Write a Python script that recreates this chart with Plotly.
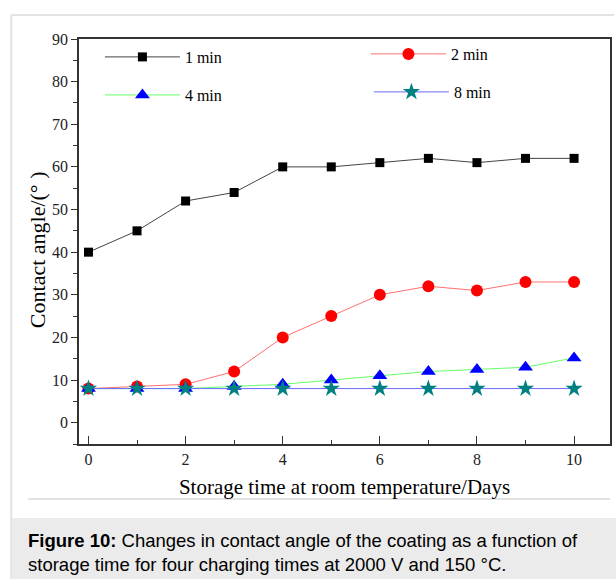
import plotly.graph_objects as go

days = [0, 1, 2, 3, 4, 5, 6, 7, 8, 9, 10]
angle_1min = [40, 45, 52, 54, 60, 60, 61, 62, 61, 62, 62]
angle_2min = [8, 8.5, 9, 12, 20, 25, 30, 32, 31, 33, 33]
angle_4min = [8, 8, 8, 8.5, 9, 10, 11, 12, 12.5, 13, 15.2]
angle_8min = [8, 8, 8, 8, 8, 8, 8, 8, 8, 8, 8]
series_names = ["1 min", "2 min", "4 min", "8 min"]
x_title = "Storage time at room temperature/Days"
y_title = "Contact angle/(° )"
caption_bold = "Figure 10:"
caption_rest = (" Changes in contact angle of the coating as a function of"
                "<br>storage time for four charging times at 2000 V and 150 °C.")

SERIF = "Liberation Serif, Times New Roman, serif"
SANS = "Liberation Sans, Arial, sans-serif"

styles = [
    dict(line=dict(color="#444444", width=1), marker=dict(symbol="square", size=9, color="#000000")),
    dict(line=dict(color="#ff7070", width=1), marker=dict(symbol="circle", size=12, color="#ff0000")),
    dict(line=dict(color="#66ff66", width=1), marker=dict(symbol="triangle-up", size=13, color="#0000ff")),
    dict(line=dict(color="#6a6aff", width=1), marker=dict(symbol="star", size=13, color="#008080")),
]
legend_ids = ["legend", "legend2", "legend3", "legend4"]

fig = go.Figure()
for name, vals, st, lg in zip(series_names, [angle_1min, angle_2min, angle_4min, angle_8min], styles, legend_ids):
    fig.add_trace(go.Scatter(x=days, y=vals, mode="lines+markers", name=name,
                             line=st["line"], marker=dict(line=dict(width=0), **st["marker"]),
                             legend=lg))

W, H = 616, 579
L, R, T, B = 79, 4, 39, 135
pw = W - L - R
ph = H - T - B

def px(x):
    return (x - L) / pw

def py(y):
    return (H - B - y) / ph

leg_common = dict(bgcolor="rgba(0,0,0,0)", font=dict(family=SERIF, size=16, color="#000"),
                  itemwidth=75, xanchor="left", yanchor="middle", borderwidth=0)
legend_pos = [(100, 57), (367, 54), (100, 95), (370, 92)]
layout_legends = {}
for lg, (lx, ly) in zip(legend_ids, legend_pos):
    layout_legends[lg] = dict(x=px(lx), y=py(ly), **leg_common)

frame_col = "#e3e3e3"
shapes = [
    dict(type="line", xref="paper", yref="paper", x0=px(11), x1=px(616), y0=py(15), y1=py(15),
         line=dict(color=frame_col, width=2)),
    dict(type="line", xref="paper", yref="paper", x0=px(11), x1=px(11), y0=py(15), y1=py(579),
         line=dict(color=frame_col, width=2)),
    dict(type="line", xref="paper", yref="paper", x0=px(28), x1=px(612), y0=py(499), y1=py(499),
         line=dict(color="#c8c8c8", width=1)),
    dict(type="rect", xref="paper", yref="paper", x0=px(12), x1=px(620), y0=py(518), y1=py(582),
         fillcolor="#ebebeb", line=dict(width=0), layer="below"),
]

fig.update_layout(
    width=W, height=H,
    margin=dict(l=L, r=R, t=T, b=B),
    paper_bgcolor="white", plot_bgcolor="white",
    showlegend=True,
    shapes=shapes,
    annotations=[
        dict(xref="paper", yref="paper", x=px(26), y=py(552), xanchor="left", yanchor="middle",
             align="left", showarrow=False,
             text="<b>" + caption_bold + "</b>" + caption_rest,
             font=dict(family=SANS, size=18.5, color="#000")),
        dict(xref="paper", yref="paper", x=px(37), y=py(250), xanchor="center", yanchor="middle",
             textangle=-90, showarrow=False, text=y_title,
             font=dict(family=SERIF, size=22, color="#000")),
    ],
    **layout_legends,
)

fig.update_xaxes(range=[-0.195, 10.74], tickmode="linear", tick0=0, dtick=2,
                 ticks="inside", ticklen=8, tickwidth=1, tickcolor="#333",
                 minor=dict(dtick=1, tick0=0, ticks="inside", ticklen=4, tickcolor="#333"),
                 showline=True, linecolor="#333", linewidth=1.5, mirror=True,
                 showgrid=False, zeroline=False,
                 tickfont=dict(family=SERIF, size=16, color="#222"),
                 title=dict(text=x_title, font=dict(family=SERIF, size=21, color="#000"), standoff=12))
fig.update_yaxes(range=[-5, 90], tickmode="linear", tick0=0, dtick=10,
                 ticks="outside", ticklen=6, tickwidth=1, tickcolor="#333",
                 minor=dict(dtick=5, tick0=0, ticks="outside", ticklen=4, tickcolor="#333"),
                 showline=True, linecolor="#333", linewidth=1.5, mirror=True,
                 showgrid=False, zeroline=False,
                 tickfont=dict(family=SERIF, size=16, color="#222"))

fig.write_html("out.html", config={"displayModeBar": False},
               post_script="document.body.style.margin='0';document.body.style.overflow='hidden';")
